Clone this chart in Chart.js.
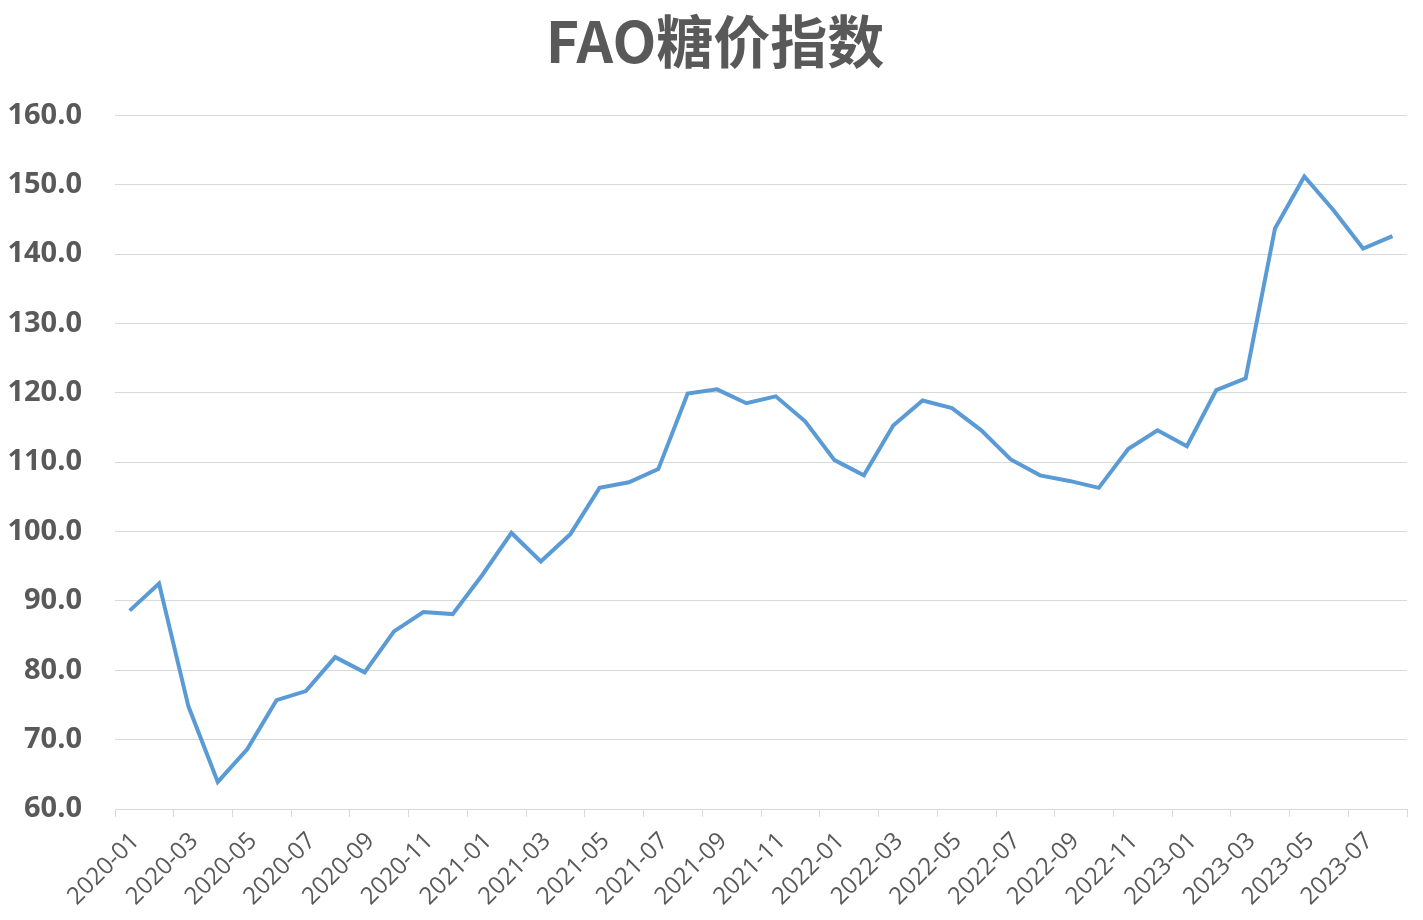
<!DOCTYPE html>
<html>
<head>
<meta charset="utf-8">
<script src="https://cdn.jsdelivr.net/npm/chart.js@4/dist/chart.umd.min.js"></script>
<style>
  html,body{margin:0;padding:0;background:#fff;}
  #wrap{width:1423px;height:920px;position:relative;}
</style>
</head>
<body>
<div id="wrap"><canvas id="sugarChart"></canvas></div>
<script>
/* ── DATA ── */
const months = [
  '2020-01','2020-02','2020-03','2020-04','2020-05','2020-06','2020-07','2020-08','2020-09','2020-10','2020-11','2020-12',
  '2021-01','2021-02','2021-03','2021-04','2021-05','2021-06','2021-07','2021-08','2021-09','2021-10','2021-11','2021-12',
  '2022-01','2022-02','2022-03','2022-04','2022-05','2022-06','2022-07','2022-08','2022-09','2022-10','2022-11','2022-12',
  '2023-01','2023-02','2023-03','2023-04','2023-05','2023-06','2023-07','2023-08'
];
const sugarIndex = [
  88.6, 92.5, 74.8, 63.9, 68.6, 75.7, 77.0, 81.9, 79.7, 85.6, 88.4, 88.1,
  93.7, 99.8, 95.7, 99.6, 106.3, 107.1, 109.0, 119.9, 120.5, 118.5, 119.5, 115.9,
  110.3, 108.1, 115.3, 118.9, 117.8, 114.6, 110.4, 108.1, 107.3, 106.3, 111.9, 114.6,
  112.3, 120.4, 122.1, 143.7, 151.2, 146.3, 140.8, 142.6
];
const yMin = 60, yMax = 160, yStep = 10;
const titleText = 'FAO糖价指数';

const TXT = '#595959', GRID = '#d9d9d9';

// title box spans the whole canvas minus right padding; nudge it so it centres like the original
const titleNudge = {
  id: 'titleNudge',
  afterLayout(chart) { if (chart.titleBlock) chart.titleBlock.left += 22; }
};

new Chart(document.getElementById('sugarChart').getContext('2d'), {
  type: 'line',
  data: {
    labels: months,
    datasets: [{
      label: titleText,
      data: sugarIndex,
      borderColor: '#5b9bd5',
      borderWidth: 4,
      pointRadius: 0,
      tension: 0,
      fill: false
    }]
  },
  options: {
    responsive: true,
    maintainAspectRatio: false,
    animation: false,
    layout: { padding: { left: 0, right: 15, top: 0, bottom: 0 } },
    plugins: {
      legend: { display: false },
      tooltip: { enabled: false },
      title: {
        display: true,
        text: titleText,
        color: TXT,
        font: { family: '"Noto Sans CJK SC", "Open Sans", sans-serif', size: 57, weight: 'bold', lineHeight: 1.2 },
        padding: { top: 7, bottom: 40 }
      }
    },
    scales: {
      x: {
        offset: true,
        grid: {
          offset: true,
          drawOnChartArea: false,
          drawTicks: true,
          tickLength: 8,
          color: c => (c.index === undefined || c.index % 2 === 0) ? GRID : 'rgba(0,0,0,0)'
        },
        border: { display: true, color: GRID, width: 1 },
        ticks: {
          autoSkip: false,
          maxRotation: 45,
          minRotation: 45,
          padding: 10,
          labelOffset: 6,
          color: TXT,
          font: { family: '"Open Sans", sans-serif', size: 24 },
          callback: (v, i) => i % 2 === 0 ? months[i] : ''
        },
        afterFit: s => { s.height = 111; }
      },
      y: {
        min: yMin,
        max: yMax,
        grid: { color: GRID, drawTicks: false, lineWidth: 1 },
        border: { display: false },
        ticks: {
          stepSize: yStep,
          padding: 33,
          color: TXT,
          font: { family: '"Open Sans", sans-serif', size: 29, weight: 'bold' },
          callback: v => v.toFixed(1)
        },
        afterFit: s => { s.width = 115; }
      }
    }
  },
  plugins: [titleNudge]
});
</script>
</body>
</html>
